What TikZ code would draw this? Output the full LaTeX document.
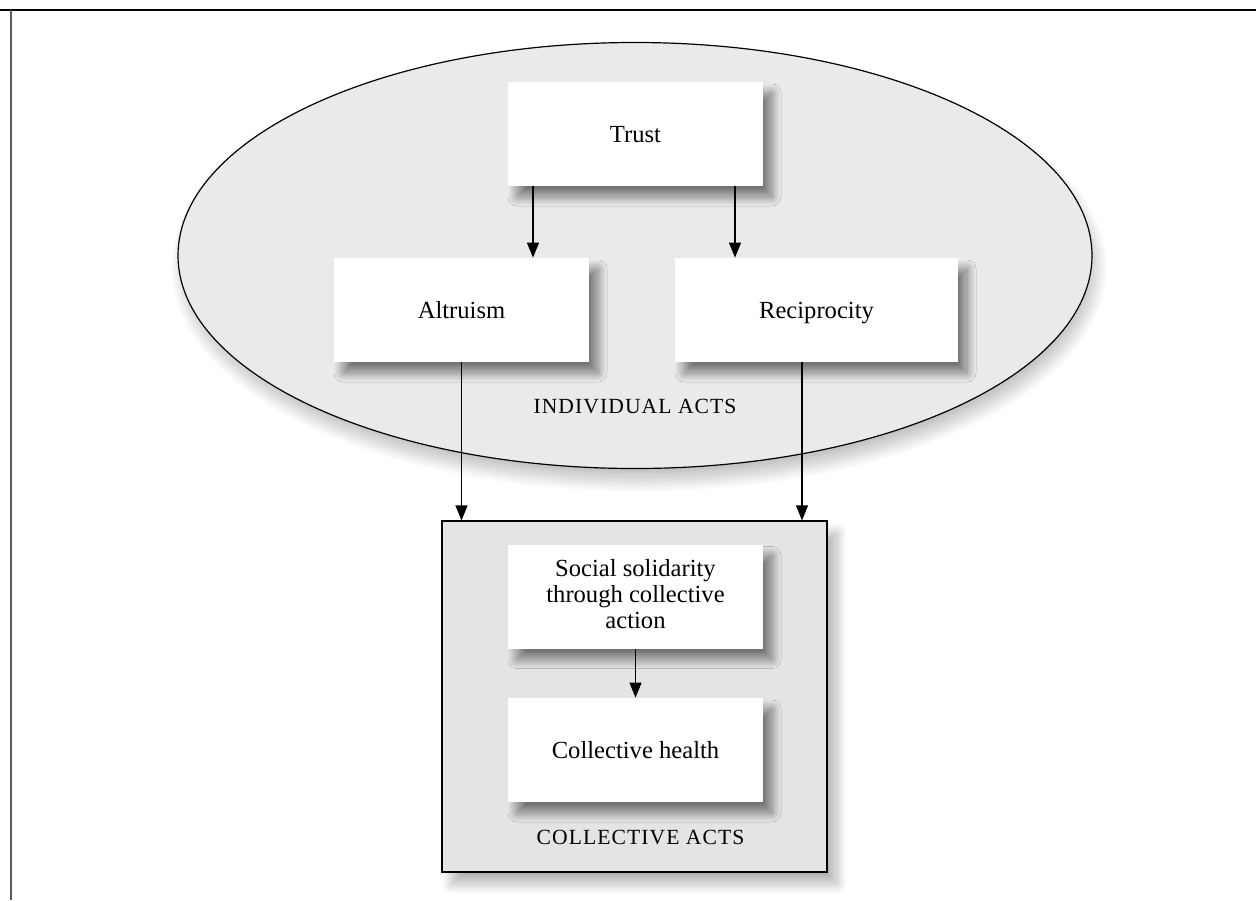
\documentclass[tikz,border=0pt]{standalone}
\usepackage{fontspec}
\setmainfont{Liberation Serif}
\usetikzlibrary{shapes,shadows,shadows.blur,arrows.meta,positioning}

\definecolor{ovalgray}{RGB}{234,234,234}
\definecolor{groupgray}{RGB}{227,228,230}
\definecolor{framegray}{RGB}{90,90,90}

\tikzstyle{line} = [draw, line width=0.6pt, -{Triangle[length=7.5pt,width=6pt]}]
\tikzstyle{act} = [rectangle, fill=white, minimum width=127.5pt, minimum height=52pt, align=center, font=\fontsize{12.3}{13}\selectfont, execute at begin node={\rule{0pt}{11.1pt}}, execute at end node={\rule[-3pt]{0pt}{3pt}}, blur shadow={shadow xshift=4.5pt, shadow yshift=-5.5pt, shadow blur radius=4.5pt, shadow blur steps=30, shadow opacity=50}]
\tikzstyle{oval} = [ellipse, draw, line width=0.6pt, fill=ovalgray, minimum width=457pt, minimum height=213pt, inner sep=0pt, blur shadow={shadow xshift=2pt, shadow yshift=-6pt, shadow blur radius=6pt, shadow blur steps=30, shadow opacity=25}]
\tikzstyle{group} = [rectangle, draw, line width=0.6pt, fill=groupgray, minimum width=192.5pt, minimum height=175.5pt, blur shadow={shadow xshift=5pt, shadow yshift=-6pt, shadow blur radius=5pt, shadow blur steps=30, shadow opacity=30}]
\tikzstyle{caption} = [font=\fontsize{10.8}{12}\selectfont\addfontfeature{LetterSpace=5}]

\begin{document}
\begin{tikzpicture}
\useasboundingbox (0,0) rectangle (628pt,-450pt);
% frame
\draw [black, line width=1pt] (0,-4.75pt) -- (628pt,-4.75pt);
\draw [framegray, line width=1pt] (5.5pt,-4.75pt) -- (5.5pt,-450pt);

% individual acts
\node [oval] (individual) at (317.5pt,-127.75pt) {};
\node [caption, below of=individual, node distance=75.75pt] (indlabel) {INDIVIDUAL ACTS};

\node [act] (trust) at (317.75pt,-67pt) {Trust};
\node [act, below of=trust, node distance=88pt, xshift=-87pt] (altruism) {Altruism};
\node [act, below of=trust, node distance=88pt, xshift=90.5pt, minimum width=141.5pt] (reciprocity) {Reciprocity};

\path [line] ([xshift=-51.25pt]trust.south) -- ([xshift=-51.25pt]trust.south |- altruism.north);
\path [line] ([xshift=49.75pt]trust.south) -- ([xshift=49.75pt]trust.south |- reciprocity.north);

% collective acts
\node [group, below of=individual, node distance=220.5pt, xshift=-0.25pt] (collective) {};
\node [act, above of=collective, node distance=50pt, xshift=0.5pt] (solidarity) {Social solidarity\\through collective\\action};
\node [act, below of=solidarity, node distance=76.75pt] (health) {Collective health};
\node [caption, below of=health, node distance=43.5pt, xshift=2.5pt] (collabel) {COLLECTIVE ACTS};

\path [line] (solidarity.south) -- (health.north);

\path [line] (altruism.south) -- (altruism.south |- collective.north);
\path [line] ([xshift=-7.25pt]reciprocity.south) -- ([xshift=-7.25pt]reciprocity.south |- collective.north);

\end{tikzpicture}
\end{document}
